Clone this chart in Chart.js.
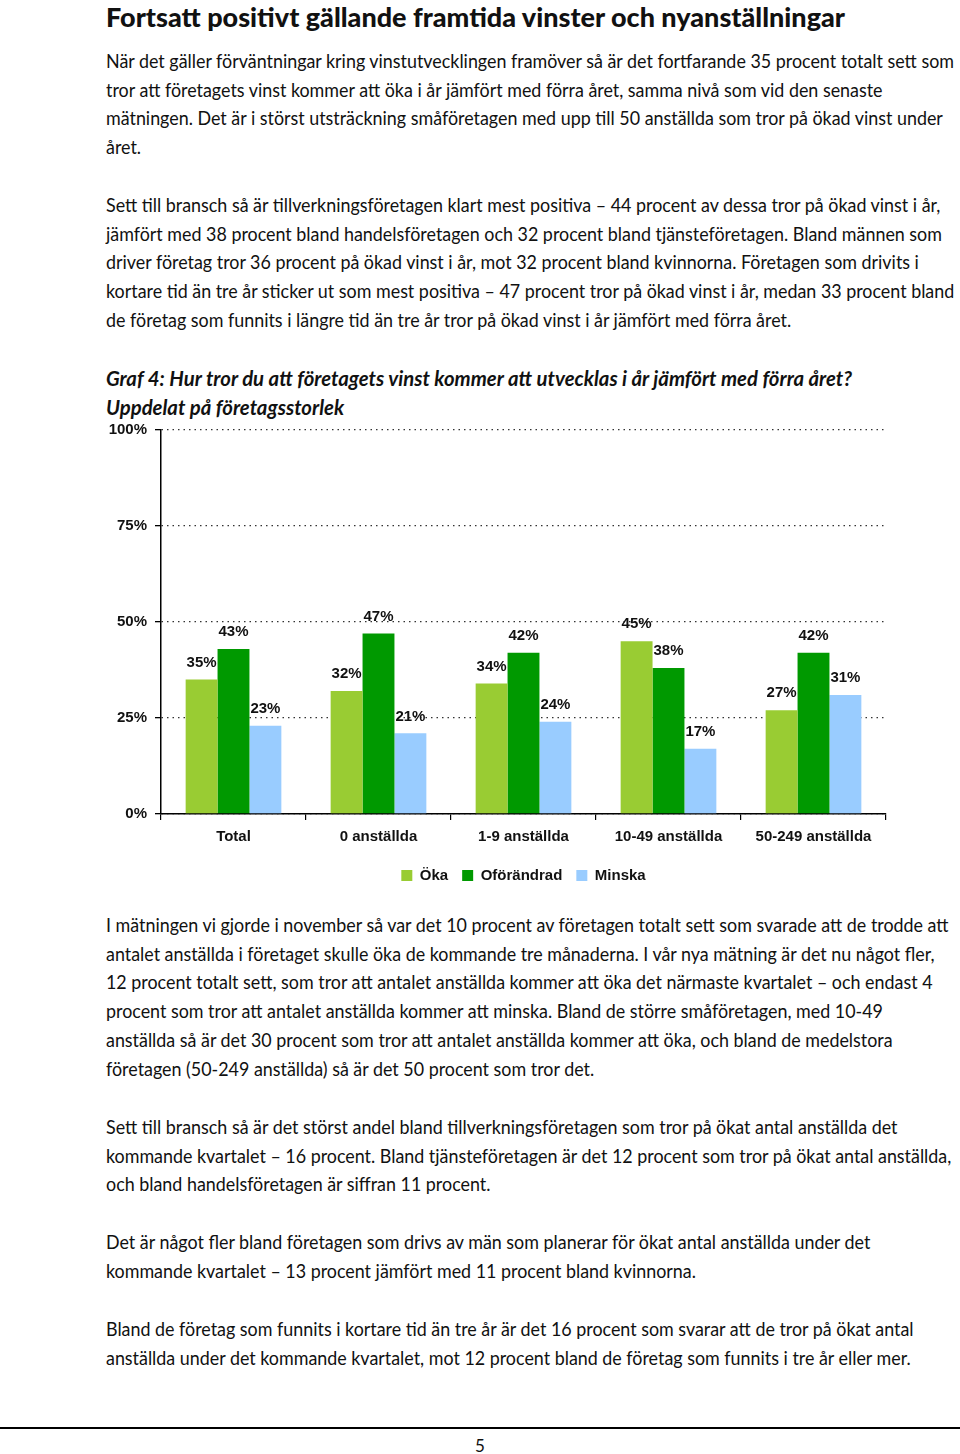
<!DOCTYPE html>
<html lang="sv">
<head>
<meta charset="utf-8">
<script src="https://cdn.jsdelivr.net/npm/chart.js@4"></script>
<style>
  html, body { margin: 0; padding: 0; background: #fff; }
  body { width: 960px; height: 1454px; position: relative; overflow: hidden; color: #111; }
  .txt { position: absolute; left: 106px; font-family: Lato, "Noto Sans", sans-serif; font-size: 19.5px; line-height: 28.7px; white-space: nowrap; transform-origin: 0 0; }
  h1 { position: absolute; left: 106px; top: 0px; margin: 0; font-family: Lato, sans-serif; font-weight: 900; font-size: 27px; white-space: nowrap; transform-origin: 0 0; }
  .gtitle { position: absolute; left: 106px; top: 364px; font-family: Lato, sans-serif; font-weight: bold; font-style: italic; font-size: 21px; line-height: 28.7px; white-space: nowrap; transform-origin: 0 0; }
  #chartBox { position: absolute; left: 100px; top: 413px; width: 842px; height: 484px; }
  .rule { position: absolute; left: 0; top: 1427px; width: 960px; height: 2px; background: #000; }
  .page { position: absolute; top: 1435px; left: 0; width: 960px; text-align: center; font-family: Lato, sans-serif; font-size: 17px; }
</style>
</head>
<body>
<h1 id="head">Fortsatt positivt gällande framtida vinster och nyanställningar</h1>

<div class="txt" style="top:47px"><span id="l1">När det gäller förväntningar kring vinstutvecklingen framöver så är det fortfarande 35 procent totalt sett som</span><br>tror att företagets vinst kommer att öka i år jämfört med förra året, samma nivå som vid den senaste<br>mätningen. Det är i störst utsträckning småföretagen med upp till 50 anställda som tror på ökad vinst under<br>året.</div>

<div class="txt" style="top:191px">Sett till bransch så är tillverkningsföretagen klart mest positiva – 44 procent av dessa tror på ökad vinst i år,<br>jämfört med 38 procent bland handelsföretagen och 32 procent bland tjänsteföretagen. Bland männen som<br>driver företag tror 36 procent på ökad vinst i år, mot 32 procent bland kvinnorna. Företagen som drivits i<br>kortare tid än tre år sticker ut som mest positiva – 47 procent tror på ökad vinst i år, medan 33 procent bland<br>de företag som funnits i längre tid än tre år tror på ökad vinst i år jämfört med förra året.</div>

<div class="gtitle"><span id="t1">Graf 4: Hur tror du att företagets vinst kommer att utvecklas i år jämfört med förra året?</span><br>Uppdelat på företagsstorlek</div>

<div id="chartBox"><canvas id="graf4"></canvas></div>

<div class="txt" style="top:911px">I mätningen vi gjorde i november så var det 10 procent av företagen totalt sett som svarade att de trodde att<br>antalet anställda i företaget skulle öka de kommande tre månaderna. I vår nya mätning är det nu något fler,<br>12 procent totalt sett, som tror att antalet anställda kommer att öka det närmaste kvartalet – och endast 4<br>procent som tror att antalet anställda kommer att minska. Bland de större småföretagen, med 10-49<br>anställda så är det 30 procent som tror att antalet anställda kommer att öka, och bland de medelstora<br>företagen (50-249 anställda) så är det 50 procent som tror det.</div>

<div class="txt" style="top:1113px">Sett till bransch så är det störst andel bland tillverkningsföretagen som tror på ökat antal anställda det<br>kommande kvartalet – 16 procent. Bland tjänsteföretagen är det 12 procent som tror på ökat antal anställda,<br>och bland handelsföretagen är siffran 11 procent.</div>

<div class="txt" style="top:1228px">Det är något fler bland företagen som drivs av män som planerar för ökat antal anställda under det<br>kommande kvartalet – 13 procent jämfört med 11 procent bland kvinnorna.</div>

<div class="txt" style="top:1315px">Bland de företag som funnits i kortare tid än tre år är det 16 procent som svarar att de tror på ökat antal<br>anställda under det kommande kvartalet, mot 12 procent bland de företag som funnits i tre år eller mer.</div>

<div class="rule"></div>
<div class="page">5</div>

<script>
// data (percent)
const categories = ["Total", "0 anställda", "1-9 anställda", "10-49 anställda", "50-249 anställda"];
const seriesNames = ["Öka", "Oförändrad", "Minska"];
const oka = [35, 32, 34, 45, 27];
const oforandrad = [43, 47, 42, 38, 42];
const minska = [23, 21, 24, 17, 31];
const yTicks = [0, 25, 50, 75, 100];

// squeeze the text to the condensed width of the original page
function squeeze(el, ref, target) {
  const w = ref.getBoundingClientRect().width;
  el.style.transform = "scaleX(" + (target / w) + ")";
}
const bodyRef = document.getElementById("l1");
const bodyW = bodyRef.getBoundingClientRect().width;
document.querySelectorAll(".txt").forEach(el => { el.style.transform = "scaleX(" + (848 / bodyW) + ")"; });
const head = document.getElementById("head");
squeeze(head, head, 739);
squeeze(document.querySelector(".gtitle"), document.getElementById("t1"), 746);

const colors = ["#99cc33", "#009900", "#99ccff"];
const labelFont = { family: "'Liberation Sans', Arial, sans-serif", weight: "bold", size: 15 };

// value labels above each bar (no datalabels plugin offline)
const barLabels = {
  id: "barLabels",
  afterDatasetsDraw(chart) {
    const ctx = chart.ctx;
    ctx.save();
    ctx.font = "bold 15px 'Liberation Sans', Arial, sans-serif";
    ctx.fillStyle = "#111";
    ctx.textAlign = "center";
    ctx.textBaseline = "middle";
    chart.data.datasets.forEach((ds, i) => {
      chart.getDatasetMeta(i).data.forEach((bar, j) => {
        ctx.fillText(ds.data[j] + "%", bar.x, bar.y - 17);
      });
    });
    ctx.restore();
  }
};

new Chart(document.getElementById("graf4"), {
  type: "bar",
  data: {
    labels: categories,
    datasets: [
      { label: seriesNames[0], data: oka, backgroundColor: colors[0] },
      { label: seriesNames[1], data: oforandrad, backgroundColor: colors[1] },
      { label: seriesNames[2], data: minska, backgroundColor: colors[2] }
    ]
  },
  options: {
    responsive: true,
    maintainAspectRatio: false,
    animation: false,
    layout: { padding: { top: 10, right: 56, left: 0, bottom: 4 } },
    datasets: { bar: { categoryPercentage: 0.66, barPercentage: 1.0 } },
    scales: {
      x: {
        grid: { display: true, drawOnChartArea: false, offset: true, tickLength: 6, color: "#000", lineWidth: 1.2 },
        border: { color: "#000", width: 1.5 },
        ticks: { color: "#111", font: labelFont, padding: 8 }
      },
      y: {
        min: 0,
        max: 100,
        afterBuildTicks: (scale) => { scale.ticks = yTicks.map(v => ({ value: v })); },
        afterFit: (scale) => { scale.width = 61; },
        grid: { color: "#333", lineWidth: 1.3, tickLength: 6, tickColor: "#000" },
        border: { color: "#000", width: 1.5, dash: [1.5, 4] },
        ticks: { color: "#111", font: labelFont, padding: 8, callback: (v) => v + "%" }
      }
    },
    plugins: {
      legend: {
        position: "bottom",
        fullSize: false,
        labels: { boxWidth: 11, boxHeight: 11, padding: 14, color: "#111", font: labelFont }
      },
      tooltip: { enabled: false }
    }
  },
  plugins: [barLabels]
});
</script>
</body>
</html>
